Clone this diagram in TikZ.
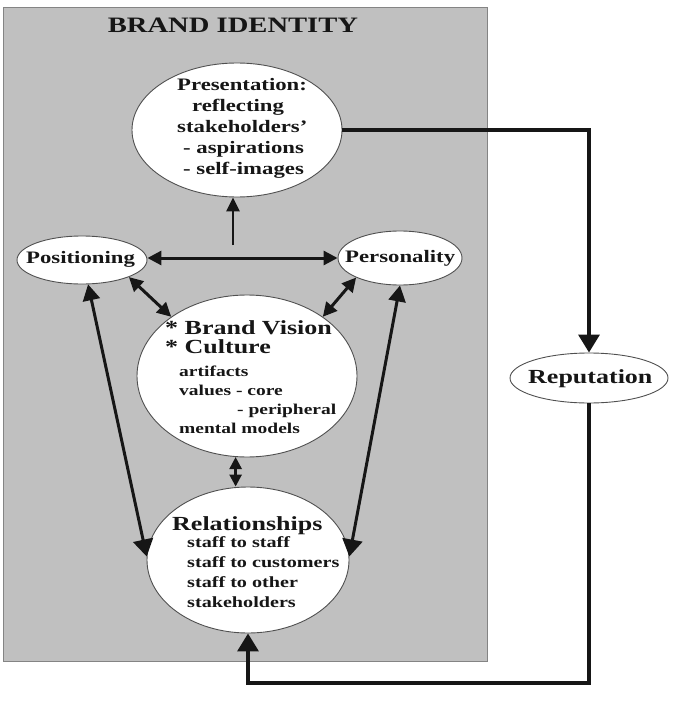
\documentclass[tikz,border=0pt]{standalone}
\usepackage{fontspec}
\newfontfamily\tnr[FakeStretch=1.3]{Liberation Serif}
\usetikzlibrary{shapes.geometric,arrows.meta}
\definecolor{panel}{RGB}{192,192,192}
\definecolor{ink}{RGB}{22,22,22}
\definecolor{edge}{RGB}{80,80,80}
\newcommand\fsz[2]{\fontsize{#1}{#2}\selectfont}
\begin{document}
\begin{tikzpicture}[x=1pt,y=-1pt,
  oval/.style={ellipse,draw=edge,line width=0.9pt,fill=white,inner sep=0},
  lbl/.style={inner sep=0,anchor=base west,align=left,text=ink},
  con/.style={draw=ink,line width=3pt},
  onehead/.style={-{Triangle[length=14pt,width=13pt]}},
  twohead/.style={{Triangle[length=14pt,width=14pt]}-{Triangle[length=14pt,width=14pt]}},
  longhead/.style={{Triangle[length=16pt,width=17pt]}-{Triangle[length=17pt,width=20pt]}},
  bighead/.style={-{Triangle[length=18pt,width=21pt]}}]
\useasboundingbox (0,0) rectangle (676,706);
\node[draw=edge!70,line width=0.8pt,fill=panel,inner sep=0,anchor=north west,
      minimum width=484pt,minimum height=654pt] (panel) at (3,7) {};
\node[lbl,anchor=base,font=\tnr\bfseries\fsz{22}{24}] (title) at (233,33) {BRAND IDENTITY};

% ovals
\node[oval,minimum width=210pt,minimum height=134pt] (pres) at (237,130) {};
\node[oval,minimum width=130pt,minimum height=48pt] (pos) at (82,260) {};
\node[oval,minimum width=124pt,minimum height=54pt] (per) at (400,258) {};
\node[oval,minimum width=220pt,minimum height=162pt] (bv) at (247,376) {};
\node[oval,minimum width=202pt,minimum height=146pt] (rel) at (248,560) {};
\node[oval,minimum width=158pt,minimum height=50pt] (rep) at (589,378) {};

% texts (base anchor = baseline of the last line)
\node[lbl,font=\tnr\bfseries\fsz{17.5}{21.2}] (presT) at (177,174.8)
  {Presentation:\\\hspace*{15pt}reflecting\\stakeholders’\\\hspace*{6pt}- aspirations\\\hspace*{6pt}- self-images};
\node[lbl,font=\tnr\bfseries\fsz{17.5}{20}] (posT) at (26,263) {Positioning};
\node[lbl,font=\tnr\bfseries\fsz{17.5}{20}] (perT) at (345,262) {Personality};
\node[lbl,font=\tnr\bfseries\fsz{20}{22}] (repT) at (528,383) {Reputation};
\node[lbl,font=\tnr\bfseries\fsz{20}{19}] (bvA) at (165,353) {* Brand Vision\\* Culture};
\node[lbl,font=\tnr\bfseries\fsz{15}{19}] (bvB) at (179,433)
  {artifacts\\values - core\\\hspace*{58pt}- peripheral\\mental models};
\node[lbl,font=\tnr\bfseries\fsz{20}{22}] (relA) at (172,530) {Relationships};
\node[lbl,font=\tnr\bfseries\fsz{15.5}{20}] (relB) at (187,607)
  {staff to staff\\staff to customers\\staff to other\\stakeholders};

% connectors inside
\coordinate (pbase) at (233,245);
\draw[con,line width=2.6pt,onehead] (pbase) -- (pbase |- pres.south);
\draw[con,twohead] (pos.east |- per.west) -- (per.west);
\draw[con,twohead] (pos.-20) -- (bv.142);
\draw[con,twohead] (per.-156) -- (bv.38);
\draw[con,line width=2.6pt,{Triangle[length=12pt,width=12pt]}-{Triangle[length=12pt,width=12pt]}] (bv.-98) -- (bv.-98 |- rel.north);
\draw[con,longhead] (pos.-76) -- (rel.178);
\draw[con,longhead] (per.south) -- (rel.2);

% feedback loop
\coordinate (fb) at (589,683);
\draw[con,line width=3.5pt,bighead] (pres.east) -| (rep.north);
\draw[con,line width=3.5pt,bighead] (rep.south) -- (fb) -| (rel.south);
\end{tikzpicture}
\end{document}
